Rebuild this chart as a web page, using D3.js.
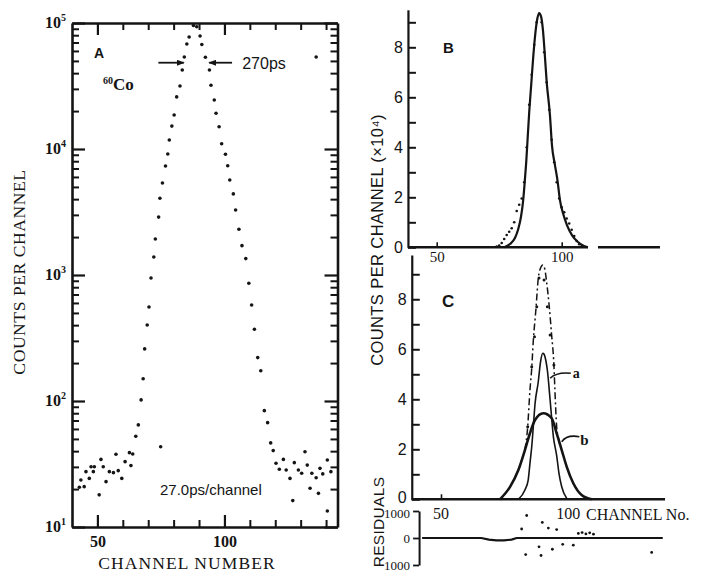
<!DOCTYPE html>
<html><head><meta charset="utf-8">
<script src="https://cdn.jsdelivr.net/npm/d3@7"></script>
<style>
html,body{margin:0;padding:0;background:#fff;}
svg{display:block;}
</style></head><body>
<svg id="chart" width="705" height="580"></svg>
<script>
// ---------------- Panel A data (log scale) ----------------
const aPeakCh = [65.1,66.1,67.2,68.0,68.6,69.6,70.3,71.1,72.2,72.8,74.1,74.6,75.6,76.8,77.7,78.3,79.3,80.2,81.2,82.5,83.4,84.2,85.2,86.1,87.8,
                 89.1,90.4,91.1,92.5,94.1,94.7,96.0,96.7,97.9,98.9,100.4,101.3,102.1,103.5,104.4,105.7,106.9,108.4,109.6,110.7,111.8,113.1,114.3,115.7,117.0,118.2,119.2];
const aPeakCounts = [52.5,64.6,102,150,259,401,557,946,1390,1930,2880,4070,5370,7330,9120,11800,15200,18600,25900,31600,42400,53700,68100,77400,95500,
                     93300,78900,67600,53500,42400,32100,24500,19200,15000,11000,9080,7360,5680,4400,3280,2310,1710,1350,859,578,371,221,174,83.8,67.3,46.5,40.4];
const aBgCh = [42.9,43.5,44.8,45.5,46.8,47.5,48.4,48.8,50.7,51.4,52.3,53.4,54.7,56.3,57.3,58.2,59.6,60.9,62.6,63.2,63.9,74.9,
               120.3,121.6,123.2,124.3,125.8,126.9,127.5,129.1,130.4,131.7,132.6,133.7,134.4,136.1,137.0,137.6,138.7,140.5,140.5,141.9,136.1];
const aBgCounts = [20.7,23.6,20.9,27.5,24.3,30.1,27.5,30.1,18,34.4,30.1,22.9,27.5,27,37.8,28,24.3,33,38.9,30.7,38,43.4,
                   32.1,28.7,34.4,28.3,24.3,16.2,32.4,28.3,26.7,39.6,31,20.3,26.7,24.6,18.5,29.2,26.4,34,13.4,27.5,53700];
const aXDomain = [40, 144.5];
const aYDomain = [10, 1e5];
const aXMajor = [50, 100];
const aXMinor = [60, 70, 80, 90, 110, 120, 130, 140];
const aYMajor = [10, 100, 1000, 10000, 100000];
const aYExp = ["1", "2", "3", "4", "5"];
const fwhmLevel = 48400;
const fwhmLeftArrow = [74, 84];
const fwhmRightArrow = [103, 94];

// ---------------- Panel B data (linear, x10^4) ----------------
const bDotCh = [74,75,76,77,78,79,80,81,82,83,84,85,86,87,88,89,90,91,92,93,94,95,96,97,98,99,100,101,102,103,104,105,106,107,108];
const bDotVal = [0.03,0.07,0.17,0.33,0.49,0.62,0.76,1.0,1.45,1.7,1.95,2.6,4.0,5.7,6.9,8.1,9.0,9.35,9.0,7.8,6.6,5.5,4.3,3.4,2.6,1.95,1.6,1.4,1.15,0.95,0.7,0.45,0.25,0.12,0.04];
const bFitCh = [77,79.3,81.3,82.5,83.7,84.6,85.2,85.8,86.4,87,87.8,88.6,89.5,90.3,91,91.7,92.5,93.2,94,95.3,96.1,97.3,98.3,99.3,100.5,102.1,104.1,106.5,108.9,110.5];
const bFitVal = [0,0.13,0.37,0.69,1.21,1.89,2.6,3.4,4.4,5.4,6.5,7.6,8.6,9.17,9.36,9.25,8.69,7.77,6.61,5.29,4.09,3.29,2.69,1.89,1.37,0.89,0.49,0.21,0.05,0];
const bYTicks = [0,1,2,3,4,5,6,7,8,9];
const bYLabels = [0,2,4,6,8];
const bXTicks = [50, 100];
const bBaseSegs = [[38.5, 110.5], [114.5, 139.3]];

// ---------------- Panel C data ----------------
const cTotCh = [83.3,84.4,85.3,86,86.6,87.7,88.6,89.5,90.4,91.2,91.9,92.9,93.9,94.8,95.2,95.9,96.5,97.9];
const cTotVal = [1.97,2.9,4.37,5.24,6.3,7.64,8.84,9.25,9.37,9.2,8.7,7.77,6.57,5.37,4.37,2.9,2.5,1.97];
const cDotCh = [84.4,86,87.1,88,88.9,90.9,92.2,93.3,94.8];
const cDotVal = [2.9,5.3,6.5,7.7,8.85,8.77,7.7,6.57,5.37];
const cACh = [80.7,83.3,84.6,85.3,86.0,86.7,87.3,88.6,89.5,90.4,90.9,91.6,92.2,93.3,94.6,95.9,96.8,97.9,99.9];
const cAVal = [0,0.37,0.77,1.44,2.1,3.0,3.8,4.7,5.5,5.84,5.8,5.55,5.17,3.97,2.5,1.75,1.05,0.5,0.03];
const cBCh = [73.4,77.4,80.7,83.3,85.3,87.3,90.6,93.9,95.9,97.9,99.9,102.5,105.8,109.8];
const cBVal = [0,0.5,1.17,1.97,2.64,3.17,3.44,3.24,2.64,1.97,1.3,0.64,0.17,0];
const cXTicks = [50];
const cXLabels = ["50", "100"];
const cXLabelCh = [50, 100.5];

// ---------------- Residuals ----------------
const rDotCh = [82,83.6,84,88.9,89.7,90.2,92.6,94.2,95.9,98.3,102.5,104.5,106,107.5,109,110.5,133.6];
const rDotVal = [333,-615,833,-326,-649,576,368,-417,312,-233,-267,170,200,150,190,140,-535];
const rLineCh = [42.5,66,69,72,75,78,80,138];
const rLineVal = [0,0,-60,-85,-85,-60,0,0];
const rTicks = [-1000, 0, 1000];

const ink = "#141414";
const SERIF = '"Liberation Serif","DejaVu Serif",serif';
const SANS = '"Liberation Sans","DejaVu Sans",sans-serif';
const svg = d3.select("#chart");

svg.append("defs").append("marker").attr("id","ah").attr("viewBox","0 0 8 6")
  .attr("refX",7).attr("refY",3).attr("markerWidth",8).attr("markerHeight",6)
  .attr("markerUnits","userSpaceOnUse").attr("orient","auto")
  .append("path").attr("d","M0,0L8,3L0,6Z").attr("fill",ink);

function style(g, w, tw) {
  g.select(".domain").attr("stroke", ink).attr("stroke-width", w);
  g.selectAll(".tick line").attr("stroke", ink).attr("stroke-width", tw);
  g.selectAll(".tick text").attr("fill", ink);
}

// ================= PANEL A =================
const xA = d3.scaleLinear().domain(aXDomain).range([72, 337.5]);
const yA = d3.scaleLog().domain(aYDomain).range([527, 23]);
const aYMinor = yA.ticks().filter(v => !aYMajor.includes(v));
const gA = svg.append("g");

// bottom
gA.append("g").attr("transform", `translate(0,${yA(10)})`)
  .call(d3.axisBottom(xA).tickValues(aXMinor).tickSize(-7).tickSizeOuter(0).tickFormat(""))
  .call(g => { g.select(".domain").remove(); style(g, 2.5, 2); });
gA.append("g").attr("transform", `translate(0,${yA(10)})`)
  .call(d3.axisBottom(xA).tickValues(aXMajor).tickSize(-12).tickSizeOuter(0).tickPadding(9))
  .call(g => { style(g, 2.6, 2.2); g.selectAll("text").attr("font-family", SERIF).attr("font-size", 16).attr("font-weight","bold"); });
// top
gA.append("g").attr("transform", `translate(0,${yA(1e5)})`)
  .call(d3.axisTop(xA).tickValues(aXMinor).tickSize(-7).tickSizeOuter(0).tickFormat(""))
  .call(g => { g.select(".domain").remove(); style(g, 2.5, 2); });
gA.append("g").attr("transform", `translate(0,${yA(1e5)})`)
  .call(d3.axisTop(xA).tickValues(aXMajor).tickSize(-12).tickSizeOuter(0).tickFormat(""))
  .call(g => style(g, 2.6, 2.2));
// left
gA.append("g").attr("transform", `translate(${xA(aXDomain[0])},0)`)
  .call(d3.axisLeft(yA).tickValues(aYMinor).tickSize(-7).tickSizeOuter(0).tickFormat(""))
  .call(g => { g.select(".domain").remove(); style(g, 2.5, 2); });
const gAL = gA.append("g").attr("transform", `translate(${xA(aXDomain[0])},0)`)
  .call(d3.axisLeft(yA).tickValues(aYMajor).tickSize(-13).tickSizeOuter(0).tickFormat(""))
  .call(g => style(g, 2.6, 2.2));
gAL.selectAll(".tick").each(function(d) {
  const t = d3.select(this).append("text").attr("x", -6).attr("dy", "0.45em")
    .attr("text-anchor", "end").attr("fill", ink).attr("font-family", SERIF).attr("font-weight", "bold");
  t.append("tspan").attr("font-size", 16).text("10");
  t.append("tspan").attr("font-size", 10).attr("dy", -7).text(aYExp[aYMajor.indexOf(d)]);
});
// right
gA.append("g").attr("transform", `translate(${xA(aXDomain[1])},0)`)
  .call(d3.axisRight(yA).tickValues(aYMinor).tickSize(-7).tickSizeOuter(0).tickFormat(""))
  .call(g => { g.select(".domain").remove(); style(g, 2.5, 2); });
gA.append("g").attr("transform", `translate(${xA(aXDomain[1])},0)`)
  .call(d3.axisRight(yA).tickValues(aYMajor).tickSize(-13).tickSizeOuter(0).tickFormat(""))
  .call(g => style(g, 2.6, 2.2));

// dots
const aPts = aPeakCh.map((c, i) => [c, aPeakCounts[i]]).concat(aBgCh.map((c, i) => [c, aBgCounts[i]]));
gA.append("g").selectAll("circle").data(aPts).join("circle")
  .attr("cx", d => xA(d[0])).attr("cy", d => yA(d[1])).attr("r", 1.8).attr("fill", ink);

// FWHM arrows
gA.append("line").attr("x1", xA(fwhmLeftArrow[0])).attr("x2", xA(fwhmLeftArrow[1]))
  .attr("y1", yA(fwhmLevel)).attr("y2", yA(fwhmLevel)).attr("stroke", ink).attr("stroke-width", 1.8).attr("marker-end", "url(#ah)");
gA.append("line").attr("x1", xA(fwhmRightArrow[0])).attr("x2", xA(fwhmRightArrow[1]))
  .attr("y1", yA(fwhmLevel)).attr("y2", yA(fwhmLevel)).attr("stroke", ink).attr("stroke-width", 1.8).attr("marker-end", "url(#ah)");
gA.append("text").attr("x", xA(107)).attr("y", yA(fwhmLevel) + 6).attr("font-family", SANS)
  .attr("font-size", 16).attr("fill", ink).text("270ps");
gA.append("text").attr("x", 94).attr("y", 58).attr("font-family", SANS).attr("font-weight", "bold")
  .attr("font-size", 14).attr("fill", ink).text("A");
const co = gA.append("text").attr("x", 103).attr("y", 90).attr("font-family", SERIF).attr("font-weight", "bold").attr("fill", ink);
co.append("tspan").attr("font-size", 10).attr("dy", -6).text("60");
co.append("tspan").attr("font-size", 17).attr("dy", 6).text("Co");
gA.append("text").attr("x", 160).attr("y", 495).attr("font-family", SANS)
  .attr("font-size", 15).attr("fill", ink).text("27.0ps/channel");
gA.append("text").attr("transform", "translate(25,272) rotate(-90)").attr("text-anchor", "middle")
  .attr("font-family", SERIF).attr("font-size", 17.5).attr("fill", ink).attr("letter-spacing", 0.6).text("COUNTS PER CHANNEL");
gA.append("text").attr("x", 187).attr("y", 569).attr("text-anchor", "middle")
  .attr("font-family", SERIF).attr("font-size", 17.5).attr("fill", ink).attr("letter-spacing", 1.1).text("CHANNEL NUMBER");

// ================= PANEL B =================
const xB = d3.scaleLinear().domain([50, 100]).range([436.7, 561.7]);
const yB = d3.scaleLinear().domain([0, 9.5]).range([247.3, 9.8]);
const gB = svg.append("g");
gB.append("g").attr("transform", `translate(${xB(38.5)},0)`)
  .call(d3.axisLeft(yB).tickValues(bYTicks).tickSize(-8).tickSizeOuter(0).tickPadding(5)
    .tickFormat(d => bYLabels.includes(d) ? d : ""))
  .call(g => { style(g, 2.2, 2); g.selectAll("text").attr("font-family", SANS).attr("font-size", 16); });
gB.append("g").selectAll("line").data(bBaseSegs).join("line")
  .attr("x1", d => xB(d[0])).attr("x2", d => xB(d[1])).attr("y1", yB(0)).attr("y2", yB(0))
  .attr("stroke", ink).attr("stroke-width", 2.4);
gB.append("g").attr("transform", `translate(0,${yB(0)})`)
  .call(d3.axisBottom(xB).tickValues(bXTicks).tickSize(-5).tickSizeOuter(0).tickPadding(4))
  .call(g => { g.select(".domain").remove(); style(g, 2, 1.6); g.selectAll("text").attr("font-family", SERIF).attr("font-size", 15); });
const lineB = d3.line().x(d => xB(d[0])).y(d => yB(d[1])).curve(d3.curveMonotoneX);
gB.append("path").attr("d", lineB(bFitCh.map((c, i) => [c, bFitVal[i]])))
  .attr("fill", "none").attr("stroke", ink).attr("stroke-width", 2.2);
gB.append("g").selectAll("circle").data(bDotCh.map((c, i) => [c, bDotVal[i]])).join("circle")
  .attr("cx", d => xB(d[0])).attr("cy", d => yB(d[1])).attr("r", 1.3).attr("fill", ink);
gB.append("text").attr("x", 443).attr("y", 53).attr("font-family", SANS).attr("font-weight", "bold")
  .attr("font-size", 15).attr("fill", ink).text("B");

// ================= PANEL C =================
const xC = d3.scaleLinear().domain([50, 100]).range([441, 567]);
const yC = d3.scaleLinear().domain([0, 9.77]).range([499.3, 255]);
const gC = svg.append("g");
gC.append("g").attr("transform", `translate(${xC(38.4)},0)`)
  .call(d3.axisLeft(yC).tickValues(bYTicks).tickSize(-8).tickSizeOuter(0).tickPadding(5)
    .tickFormat(d => bYLabels.includes(d) ? d : ""))
  .call(g => { style(g, 2.2, 2); g.selectAll("text").attr("font-family", SANS).attr("font-size", 16)
               .attr("dy", d => d === 0 ? "0.2em" : "0.32em"); });
gC.append("g").attr("transform", `translate(0,${yC(0)})`)
  .call(d3.axisBottom(xC).tickValues(cXTicks).tickSize(-5).tickSizeOuter(0).tickFormat(""))
  .call(g => { g.select(".domain").remove(); style(g, 2, 1.6); });
gC.append("line").attr("x1", xC(38.4)).attr("x2", xC(138.9)).attr("y1", yC(0)).attr("y2", yC(0))
  .attr("stroke", ink).attr("stroke-width", 2.4);
gC.append("g").selectAll("text").data(cXLabels).join("text")
  .attr("x", (d, i) => xC(cXLabelCh[i])).attr("y", 519).attr("text-anchor", "middle")
  .attr("font-family", SERIF).attr("font-size", 16).attr("fill", ink).text(d => d);
gC.append("text").attr("x", 586).attr("y", 520).attr("font-family", SERIF).attr("font-size", 16)
  .attr("fill", ink).text("CHANNEL No.");
const lineC = d3.line().x(d => xC(d[0])).y(d => yC(d[1])).curve(d3.curveMonotoneX);
gC.append("path").attr("d", lineC(cBCh.map((c, i) => [c, cBVal[i]])))
  .attr("fill", "none").attr("stroke", ink).attr("stroke-width", 2.6);
gC.append("path").attr("d", lineC(cACh.map((c, i) => [c, cAVal[i]])))
  .attr("fill", "none").attr("stroke", ink).attr("stroke-width", 1.6);
gC.append("path").attr("d", lineC(cTotCh.map((c, i) => [c, cTotVal[i]])))
  .attr("fill", "none").attr("stroke", ink).attr("stroke-width", 1.5).attr("stroke-dasharray", "7 3 2 3");
gC.append("g").selectAll("circle").data(cDotCh.map((c, i) => [c, cDotVal[i]])).join("circle")
  .attr("cx", d => xC(d[0])).attr("cy", d => yC(d[1])).attr("r", 1.5).attr("fill", ink);
// labels a, b with leaders
gC.append("path").attr("d", `M${xC(93.3)},${yC(4.84)} Q${xC(96)},${yC(5.1)} ${xC(101.5)},${yC(5.04)}`)
  .attr("fill", "none").attr("stroke", ink).attr("stroke-width", 1.6);
gC.append("text").attr("x", xC(102.3)).attr("y", yC(4.85)).attr("font-family", SERIF).attr("font-weight", "bold")
  .attr("font-size", 14).attr("fill", ink).text("a");
gC.append("path").attr("d", `M${xC(97.9)},${yC(2.3)} Q${xC(100)},${yC(2.6)} ${xC(104.9)},${yC(2.5)}`)
  .attr("fill", "none").attr("stroke", ink).attr("stroke-width", 1.6);
gC.append("text").attr("x", xC(105.3)).attr("y", yC(2.18)).attr("font-family", SERIF).attr("font-weight", "bold")
  .attr("font-size", 15).attr("fill", ink).text("b");
gC.append("text").attr("x", 442).attr("y", 307).attr("font-family", SANS).attr("font-weight", "bold")
  .attr("font-size", 17).attr("fill", ink).text("C");

// shared y label
svg.append("text").attr("transform", "translate(383,240) rotate(-90)").attr("text-anchor", "middle")
  .attr("font-family", SANS).attr("font-size", 16.5).attr("fill", ink).attr("letter-spacing", 0.4)
  .text("COUNTS PER CHANNEL (\u00D710\u2074)");

// ================= RESIDUALS =================
const yR = d3.scaleLinear().domain([-1000, 1000]).range([565, 511]);
const gR = svg.append("g");
gR.append("g").attr("transform", `translate(${xC(41.3)},0)`)
  .call(d3.axisLeft(yR).tickValues(rTicks).tickSize(6).tickSizeOuter(0).tickPadding(3)
    .tickFormat(d => Math.abs(d)))
  .call(g => { style(g, 2, 1.8); g.selectAll("text").attr("font-family", SERIF).attr("font-size", 13)
               .attr("dy", d => d === 1000 ? "0.5em" : "0.32em"); });
const lineR = d3.line().x(d => xC(d[0])).y(d => yR(d[1]));
gR.append("path").attr("d", lineR(rLineCh.map((c, i) => [c, rLineVal[i]])))
  .attr("fill", "none").attr("stroke", ink).attr("stroke-width", 2.2);
gR.append("g").selectAll("circle").data(rDotCh.map((c, i) => [c, rDotVal[i]])).join("circle")
  .attr("cx", d => xC(d[0])).attr("cy", d => yR(d[1])).attr("r", 1.4).attr("fill", ink);
svg.append("text").attr("transform", "translate(384,522) rotate(-90)").attr("text-anchor", "middle")
  .attr("font-family", SANS).attr("font-size", 15.5).attr("fill", ink).attr("letter-spacing", 0.3).text("RESIDUALS");
</script>
</body></html>
